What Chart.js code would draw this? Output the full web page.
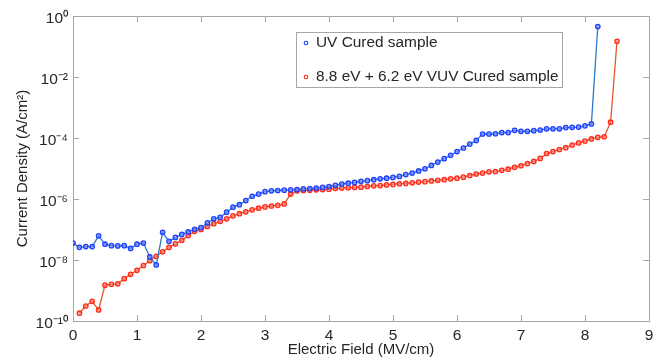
<!DOCTYPE html>
<html>
<head>
<meta charset="utf-8">
<script src="https://cdn.jsdelivr.net/npm/chart.js@4/dist/chart.umd.min.js"></script>
<style>
html,body{margin:0;padding:0;background:#fff;}
#wrap{width:660px;height:359px;}
</style>
</head>
<body>
<div id="wrap"><canvas id="c" width="660" height="359"></canvas></div>
<script>
const seriesNames = ["UV Cured sample", "8.8 eV + 6.2 eV VUV Cured sample"];
const xTickValues = [0,1,2,3,4,5,6,7,8,9];
const yTickExponents = [-10,-8,-6,-4,-2,0];

const fieldUV = [0,0.1,0.2,0.3,0.4,0.5,0.6,0.7,0.8,0.9,1.0,1.1,1.2,1.3,1.4,1.5,1.6,1.7,1.8,1.9,
 2.0,2.1,2.2,2.3,2.4,2.5,2.6,2.7,2.8,2.9,3.0,3.1,3.2,3.3,3.4,3.5,3.6,3.7,3.8,3.9,
 4.0,4.1,4.2,4.3,4.4,4.5,4.6,4.7,4.8,4.9,5.0,5.1,5.2,5.3,5.4,5.5,5.6,5.7,5.8,5.9,
 6.0,6.1,6.2,6.3,6.4,6.5,6.6,6.7,6.8,6.9,7.0,7.1,7.2,7.3,7.4,7.5,7.6,7.7,7.8,7.9,
 8.0,8.1,8.2];
const densityUV = [3.6e-8,2.6e-8,2.75e-8,2.75e-8,6.2e-8,3.3e-8,2.95e-8,2.9e-8,2.95e-8,2.4e-8,
 3.3e-8,3.6e-8,1.26e-8,6.9e-9,8.1e-8,4.1e-8,5.5e-8,6.9e-8,8.3e-8,1.02e-7,
 1.15e-7,1.66e-7,2.24e-7,2.5e-7,3.7e-7,5.4e-7,6.5e-7,8.9e-7,1.23e-6,1.45e-6,
 1.74e-6,1.86e-6,1.9e-6,1.95e-6,2.0e-6,2.04e-6,2.14e-6,2.19e-6,2.29e-6,2.4e-6,
 2.57e-6,2.8e-6,3.1e-6,3.3e-6,3.5e-6,3.8e-6,4.0e-6,4.3e-6,4.6e-6,4.8e-6,
 5.1e-6,5.5e-6,6.3e-6,7.1e-6,8.3e-6,9.8e-6,1.26e-5,1.62e-5,2.1e-5,2.7e-5,
 3.6e-5,4.7e-5,6.3e-5,8.3e-5,1.35e-4,1.35e-4,1.38e-4,1.51e-4,1.51e-4,1.78e-4,
 1.66e-4,1.66e-4,1.74e-4,1.82e-4,2.0e-4,2.0e-4,2.0e-4,2.19e-4,2.24e-4,2.29e-4,
 2.5e-4,2.9e-4,0.45];

const fieldVUV = [0.1,0.2,0.3,0.4,0.5,0.6,0.7,0.8,0.9,1.0,1.1,1.2,1.3,1.4,1.5,1.6,1.7,1.8,1.9,
 2.0,2.1,2.2,2.3,2.4,2.5,2.6,2.7,2.8,2.9,3.0,3.1,3.2,3.3,3.4,3.5,3.6,3.7,3.8,3.9,
 4.0,4.1,4.2,4.3,4.4,4.5,4.6,4.7,4.8,4.9,5.0,5.1,5.2,5.3,5.4,5.5,5.6,5.7,5.8,5.9,
 6.0,6.1,6.2,6.3,6.4,6.5,6.6,6.7,6.8,6.9,7.0,7.1,7.2,7.3,7.4,7.5,7.6,7.7,7.8,7.9,
 8.0,8.1,8.2,8.3,8.4,8.5];
const densityVUV = [1.8e-10,3.1e-10,4.4e-10,2.3e-10,1.5e-9,1.6e-9,1.66e-9,2.45e-9,3.4e-9,
 4.6e-9,6.6e-9,9.5e-9,1.32e-8,1.86e-8,2.6e-8,3.4e-8,4.4e-8,6.3e-8,8.7e-8,
 1.0e-7,1.26e-7,1.55e-7,1.86e-7,2.24e-7,2.8e-7,3.3e-7,3.8e-7,4.4e-7,5.0e-7,
 5.5e-7,5.9e-7,6.2e-7,6.9e-7,1.45e-6,1.86e-6,1.9e-6,1.95e-6,2.0e-6,2.04e-6,
 2.1e-6,2.24e-6,2.29e-6,2.34e-6,2.4e-6,2.45e-6,2.57e-6,2.7e-6,2.75e-6,2.9e-6,
 3.0e-6,3.16e-6,3.24e-6,3.4e-6,3.6e-6,3.7e-6,3.9e-6,4.1e-6,4.3e-6,4.6e-6,
 4.8e-6,5.2e-6,5.9e-6,6.6e-6,7.1e-6,7.8e-6,7.9e-6,8.7e-6,9.5e-6,1.1e-5,
 1.23e-5,1.45e-5,1.7e-5,2.14e-5,3.1e-5,3.6e-5,4.2e-5,4.8e-5,5.9e-5,6.9e-5,
 7.9e-5,9.3e-5,1.05e-4,1.1e-4,3.3e-4,0.148];

const FONT = "'Liberation Sans', Arial, Helvetica, sans-serif";
const TEXT = '#262626';
const AXIS = '#a6a6a6';
const supMap = {'-':'\u207B','0':'\u2070','1':'\u00B9','2':'\u00B2','3':'\u00B3','4':'\u2074','5':'\u2075','6':'\u2076','7':'\u2077','8':'\u2078','9':'\u2079'};
function sup(n){ return String(n).split('').map(c => supMap[c]).join(''); }

function pts(xs, ys){ return xs.map((x,i) => ({x: x, y: ys[i]})); }

const boxPlugin = {
  id: 'boxTicks',
  beforeDatasetsDraw(chart){
    const {ctx, chartArea: a, scales} = chart;
    ctx.save();
    ctx.strokeStyle = AXIS;
    ctx.lineWidth = 1;
    ctx.strokeRect(Math.round(a.left)+0.5, Math.round(a.top)+0.5, Math.round(a.right-a.left), Math.round(a.bottom-a.top));
    const L = 6;
    ctx.beginPath();
    xTickValues.forEach(v => {
      const px = Math.round(scales.x.getPixelForValue(v)) + 0.5;
      ctx.moveTo(px, a.top); ctx.lineTo(px, a.top + L);
      ctx.moveTo(px, a.bottom); ctx.lineTo(px, a.bottom - L);
    });
    yTickExponents.forEach(e => {
      const py = Math.round(scales.y.getPixelForValue(Math.pow(10, e))) + 0.5;
      ctx.moveTo(a.left, py); ctx.lineTo(a.left + L, py);
      ctx.moveTo(a.right, py); ctx.lineTo(a.right - L, py);
    });
    ctx.stroke();
    ctx.restore();
  }
};

const legendPlugin = {
  id: 'innerLegend',
  afterDraw(chart){
    const {ctx} = chart;
    const bx = 296, by = 32, bw = 266, bh = 55;
    ctx.save();
    ctx.fillStyle = '#fff';
    ctx.fillRect(bx, by, bw, bh);
    ctx.strokeStyle = AXIS;
    ctx.lineWidth = 1;
    ctx.strokeRect(bx + 0.5, by + 0.5, bw, bh);
    const rows = [43, 77];
    chart.data.datasets.forEach((ds, i) => {
      const y = rows[i];
      ctx.beginPath();
      ctx.arc(306, y, 1.8, 0, Math.PI * 2);
      ctx.strokeStyle = ds.pointBorderColor;
      ctx.lineWidth = 1.1;
      ctx.stroke();
      ctx.fillStyle = TEXT;
      ctx.font = '15.4px ' + FONT;
      ctx.textBaseline = 'middle';
      ctx.textAlign = 'left';
      ctx.fillText(ds.label, 316, y);
    });
    ctx.restore();
  }
};

new Chart(document.getElementById('c'), {
  type: 'line',
  data: {
    datasets: [
      {
        label: seriesNames[0],
        data: pts(fieldUV, densityUV),
        borderColor: '#2b7bd0',
        borderWidth: 1.3,
        pointBorderColor: '#1f3fff',
        pointBackgroundColor: 'rgba(120,140,255,0.6)',
        pointRadius: 2.2,
        pointBorderWidth: 1.3,
        tension: 0
      },
      {
        label: seriesNames[1],
        data: pts(fieldVUV, densityVUV),
        borderColor: '#e0592a',
        borderWidth: 1.3,
        pointBorderColor: '#ff2a1a',
        pointBackgroundColor: 'rgba(255,140,130,0.6)',
        pointRadius: 2.2,
        pointBorderWidth: 1.3,
        tension: 0
      }
    ]
  },
  options: {
    responsive: false,
    animation: false,
    layout: {padding: {top: 16, right: 11, left: 0, bottom: 0}},
    plugins: {legend: {display: false}, tooltip: {enabled: false}},
    scales: {
      x: {
        type: 'linear',
        min: 0, max: 9,
        grid: {display: false, drawTicks: false},
        border: {display: false},
        afterBuildTicks(s){ s.ticks = xTickValues.map(v => ({value: v})); },
        afterFit(s){ s.height = 38; },
        ticks: {
          color: TEXT, padding: 5,
          font: {family: FONT, size: 15.5},
          maxRotation: 0, autoSkip: false
        },
        title: {
          display: true, text: 'Electric Field (MV/cm)', color: TEXT,
          font: {family: FONT, size: 15}, padding: {top: 0, bottom: 0}
        }
      },
      y: {
        type: 'logarithmic',
        min: 1e-10, max: 1,
        grid: {display: false, drawTicks: false},
        border: {display: false},
        afterBuildTicks(s){ s.ticks = yTickExponents.map(e => ({value: Math.pow(10, e)})); },
        afterFit(s){ s.width = 73; },
        ticks: {
          color: TEXT, padding: 5, labelOffset: 3,
          font: {family: FONT, size: 15.5},
          autoSkip: false,
          callback(v){ return '10' + sup(Math.round(Math.log10(v))); }
        },
        title: {
          display: true, text: 'Current Density (A/cm\u00B2)', color: TEXT,
          font: {family: FONT, size: 15}, padding: {top: 14, bottom: 0}
        }
      }
    }
  },
  plugins: [boxPlugin, legendPlugin]
});
</script>
</body>
</html>
